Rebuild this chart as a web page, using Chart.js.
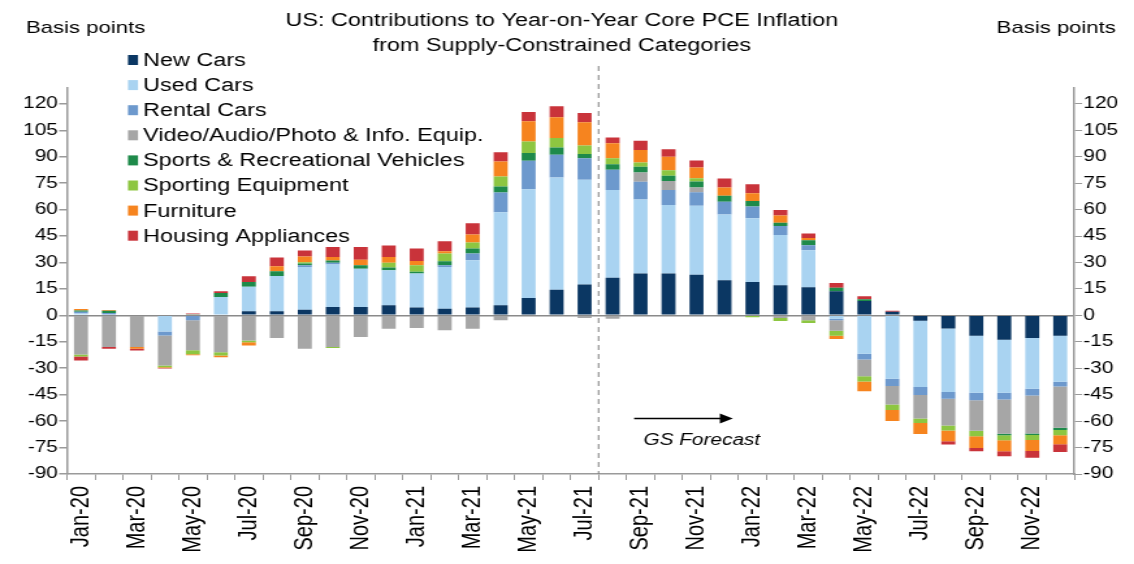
<!DOCTYPE html>
<html>
<head>
<meta charset="utf-8">
<script src="https://cdn.jsdelivr.net/npm/chart.js@4.4.0/dist/chart.umd.min.js"></script>
<style>
  html, body { margin: 0; padding: 0; background: #fff; overflow: hidden; }
  #wrap { width: 872px; height: 564px; transform: scaleX(1.3005); transform-origin: 0 0; }
</style>
</head>
<body>
<div id="wrap"><canvas id="myChart" width="872" height="564"></canvas></div>
<script>
// months, Jan-20 .. Dec-22
const months = ['Jan-20','Feb-20','Mar-20','Apr-20','May-20','Jun-20','Jul-20','Aug-20','Sep-20','Oct-20','Nov-20','Dec-20',
  'Jan-21','Feb-21','Mar-21','Apr-21','May-21','Jun-21','Jul-21','Aug-21','Sep-21','Oct-21','Nov-21','Dec-21',
  'Jan-22','Feb-22','Mar-22','Apr-22','May-22','Jun-22','Jul-22','Aug-22','Sep-22','Oct-22','Nov-22','Dec-22'];

const yTicks = [-90,-75,-60,-45,-30,-15,0,15,30,45,60,75,90,105,120];

// contributions, basis points
const newCars = [0,0,0,0,0,0,2.3,2.3,3.2,4.7,4.7,5.7, 4.4,3.8,4.4,5.7,9.9,14.6,17.5,21.3,23.7,23.7,23.1,19.9,
  19,17.1,15.9,13.7,8.2,2.1,-3,-7.4,-11.6,-13.9,-12.9,-11.6];
const usedCars = [1,0,0,-9.1,0,10.4,13.9,20,24.3,24.1,21.8,19.9, 19.4,23.7,26.9,52.8,61.7,63.6,59.4,49.9,42.1,38.9,39.1,37.4,
  36.1,28.5,21.1,-1.9,-21.8,-35.9,-37.6,-36.1,-32.3,-30,-28.7,-26];
const rentalCars = [1,1.3,0,-2.3,-2.8,0,0,0,0.9,1.1,0,0, 0,0.9,3.8,11.2,16.1,12.9,12.3,11.4,10,8.5,7.6,7.2,
  6.6,5.1,2.8,-0.8,-3.2,-4.2,-4.6,-3.8,-4.2,-3.8,-3.8,-2.8];
const videoEquip = [-22.2,-18,-18,-17,-17,-20.9,-14.2,-12.9,-19,-18,-12.3,-7.6, -7.2,-8.5,-7.6,-2.8,0,0,-1.5,-1.9,5.3,5.1,2.7,0,
  0,-1.5,-2.8,-6,-9.5,-10.4,-13.3,-15.2,-17.3,-19.4,-21.6,-23.3];
const sportsVeh = [0.8,1.3,0,0,0.7,2.3,2.8,2.8,1,1.3,1.9,1.5, 0.9,2.3,2.8,3.4,4.4,4.2,2.3,3.2,3.2,3,3.4,3.4,
  3.2,1.9,2.8,1.9,0.9,0,0,0,0,-0.9,-0.9,-1.3];
const sportingEq = [-1.1,0,0.5,-1,-2.3,-1.9,-1,0,0.8,-0.5,0,2.8, 3.8,4.4,3.4,5.7,6.6,5.3,4.9,3.4,2.5,3.2,1.9,0,
  -1.1,-1.7,-1.5,-2.8,-3,-3.2,-2.5,-2.8,-3.2,-2.8,-2.8,-3];
const furniture = [0.8,0.5,-1,-0.4,-0.5,-0.9,-1.9,2.8,3.2,1.9,3.2,3.2, 2.3,1.3,4.6,8.5,11.4,11.8,13.1,8.5,7,7.6,6.1,4.7,
  4.4,4,1.3,-1.9,-5.5,-6.3,-6.3,-6.1,-6.6,-6.3,-6.3,-5.1];
const appliances = [-2.3,-1,-1,-0.4,0.4,1,3.2,4.9,3.4,5.7,7.2,6.6, 7.2,5.7,6.3,5.3,5.3,6.3,5.3,3.2,5.3,4.2,4,5.1,
  5.1,3.2,2.5,2.8,1.7,0.5,0,-1.9,-1.9,-2.8,-3.8,-4.4];

const FONT = '"Liberation Sans", Arial, sans-serif';

function ds(label, data, color) {
  return { label: label, data: data, backgroundColor: color, stack: 's', barPercentage: 0.5, categoryPercentage: 1.0 };
}

const extras = {
  id: 'extras',
  afterDraw(chart) {
    const ctx = chart.ctx;
    const x = chart.scales.x, y = chart.scales.y;
    ctx.save();
    // forecast divider
    const xd = (x.getPixelForValue(18) + x.getPixelForValue(19)) / 2;
    ctx.strokeStyle = '#7f7f7f';
    ctx.lineWidth = 1;
    ctx.setLineDash([5, 4]);
    ctx.beginPath();
    ctx.moveTo(xd, 66);
    ctx.lineTo(xd, chart.chartArea.bottom);
    ctx.stroke();
    ctx.setLineDash([]);

    // arrow + label
    const ax0 = x.getPixelForValue(19.77), ax1 = x.getPixelForValue(23.3), ay = y.getPixelForValue(-58.5);
    ctx.strokeStyle = '#000';
    ctx.lineWidth = 1.5;
    ctx.beginPath();
    ctx.moveTo(ax0, ay);
    ctx.lineTo(ax1 - 8, ay);
    ctx.stroke();
    ctx.fillStyle = '#000';
    ctx.beginPath();
    ctx.moveTo(ax1, ay);
    ctx.lineTo(ax1 - 10, ay - 5);
    ctx.lineTo(ax1 - 10, ay + 5);
    ctx.closePath();
    ctx.fill();
    ctx.font = 'italic 16px ' + FONT;
    ctx.textAlign = 'left';
    ctx.textBaseline = 'middle';
    ctx.fillText('GS Forecast', x.getPixelForValue(20.1), y.getPixelForValue(-71));

    // title
    ctx.font = '18px ' + FONT;
    ctx.textAlign = 'center';
    ctx.fillText('US: Contributions to Year-on-Year Core PCE Inflation', 432, 21);
    ctx.fillText('from Supply-Constrained Categories', 432, 46);

    // axis titles
    ctx.font = '17px ' + FONT;
    ctx.textAlign = 'left';
    ctx.fillText('Basis points', 20, 28);
    ctx.textAlign = 'right';
    ctx.fillText('Basis points', 858, 28);

    // legend
    ctx.font = '18px ' + FONT;
    ctx.textAlign = 'left';
    chart.data.datasets.forEach((d, i) => {
      const cy = 60 + i * 25.1;
      ctx.fillStyle = d.backgroundColor;
      ctx.fillRect(98.4, cy - 5, 7.7, 10);
      ctx.fillStyle = '#000';
      ctx.fillText(d.label, 110, cy + 1);
    });
    ctx.restore();
  }
};

const keepSteps = (scale) => {
  scale.ticks = yTicks.map(v => ({ value: v }));
};

const ctx = document.getElementById('myChart');
const chart = new Chart(ctx, {
  type: 'bar',
  data: {
    labels: months,
    datasets: [
      ds('New Cars', newCars, '#0b3763'),
      ds('Used Cars', usedCars, '#a9d3f1'),
      ds('Rental Cars', rentalCars, '#6d99cd'),
      ds('Video/Audio/Photo & Info. Equip.', videoEquip, '#a6a6a6'),
      ds('Sports & Recreational Vehicles', sportsVeh, '#1e8a4a'),
      ds('Sporting Equipment', sportingEq, '#8dc641'),
      ds('Furniture', furniture, '#f6841f'),
      ds('Housing Appliances', appliances, '#c9333a')
    ]
  },
  options: {
    responsive: false,
    animation: false,
    layout: { padding: { top: 88, left: 0, right: 0, bottom: 0 } },
    plugins: { legend: { display: false }, tooltip: { enabled: false } },
    scales: {
      x: {
        stacked: true,
        grid: { display: true, drawOnChartArea: false, tickLength: 6, color: '#9a9a9a', offset: true },
        border: { color: '#9a9a9a', width: 1.5 },
        ticks: {
          autoSkip: false, maxRotation: 90, minRotation: 90, padding: 6,
          color: '#000', font: { family: FONT, size: 20 },
          callback: (v, i) => (i % 2 === 0 ? months[i] : '')
        },
        afterFit: (s) => { s.height = 90; }
      },
      y: {
        stacked: true, position: 'left', min: -90, max: 129,
        afterBuildTicks: keepSteps,
        grid: {
          drawOnChartArea: true, tickLength: 6, tickColor: '#9a9a9a',
          color: (c) => (c.tick && c.tick.value === 0 ? '#8a8a8a' : 'rgba(0,0,0,0)'),
          lineWidth: 1.5
        },
        border: { color: '#9a9a9a', width: 1.5 },
        ticks: { padding: 1, color: '#000', font: { family: FONT, size: 16 } },
        afterFit: (s) => { s.width = 51.5; }
      },
      y2: {
        position: 'right', min: -90, max: 129,
        afterBuildTicks: keepSteps,
        grid: { drawOnChartArea: false, tickLength: 6, color: '#9a9a9a' },
        border: { color: '#9a9a9a', width: 1.5 },
        ticks: { padding: 1, color: '#000', font: { family: FONT, size: 16 } },
        afterFit: (s) => { s.width = 46; }
      }
    }
  },
  plugins: [extras]
});
</script>
</body>
</html>
